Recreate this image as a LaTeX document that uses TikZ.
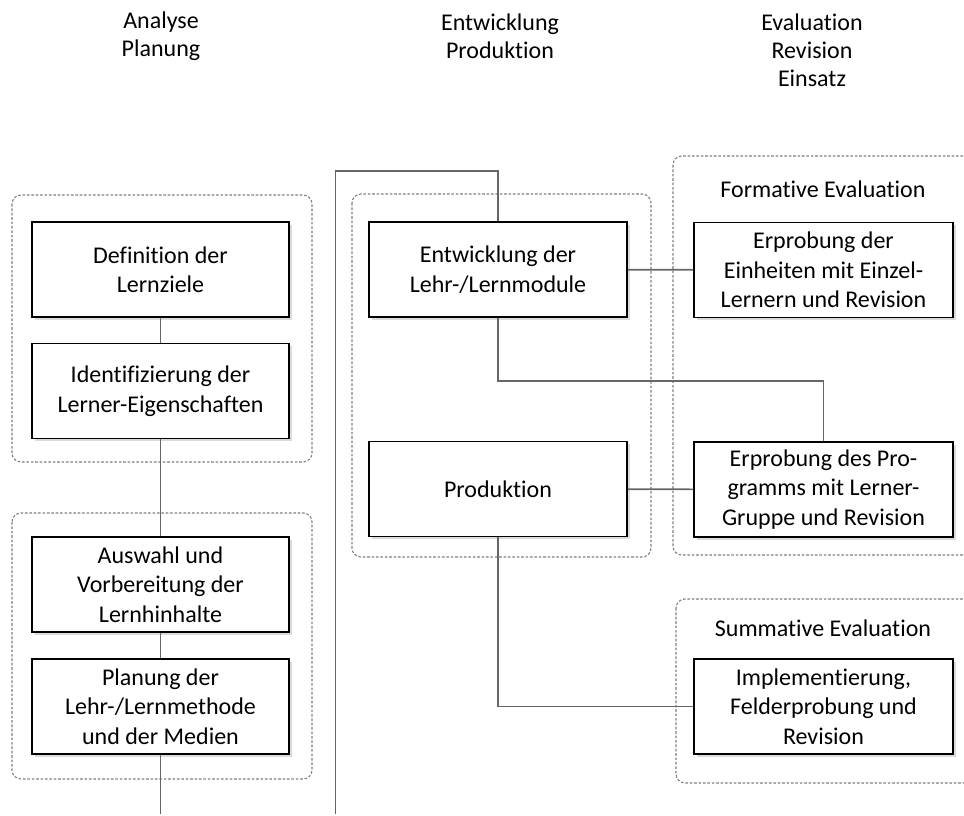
\documentclass[tikz,border=0pt]{standalone}
\usepackage{fontspec}
\setmainfont{Carlito}[Ligatures=NoCommon]
\usetikzlibrary{shadows}
\begin{document}
\begin{tikzpicture}[x=1pt,y=-1pt,
  font=\fontsize{24}{29.5}\selectfont,
  stepbox/.style={draw=black, line width=1.7pt, fill=white, align=center,
    minimum width=257pt, minimum height=95pt, inner sep=2pt,
    drop shadow={shadow xshift=2.5pt, shadow yshift=-2.5pt, fill=black!14, opacity=1}},
  groupbox/.style={draw=black!50, line width=1.1pt, dash pattern=on 2.6pt off 1.8pt, rounded corners=9pt},
  link/.style={draw=black!60, line width=1.6pt},
  heading/.style={align=center, font=\fontsize{24}{28}\selectfont}]
\useasboundingbox (0,0) rectangle (964,816);
\clip (0,0) rectangle (964,816);

% phase headings
\node[heading] (hA) at (161,36) {Analyse\\Planung};
\node[heading] (hE) at (500,36) {Entwicklung\\Produktion};
\node[heading] (hV) at (812,50) {Evaluation\\Revision\\Einsatz};

% dashed groups
\draw[groupbox] (12,195) rectangle (312,462);
\draw[groupbox] (12,513) rectangle (312,779);
\draw[groupbox] (352,194) rectangle (651,557);
\draw[groupbox] (673,156) rectangle (975,555);
\draw[groupbox] (676,599) rectangle (978,783);

\node (tF) at (823,189) {Formative Evaluation};
\node (tS) at (823,628) {Summative Evaluation};

% analysis and planning
\node[stepbox] (def)   at (160.5,269.5) {Definition der\\Lernziele};
\node[stepbox] (ident) at (160.5,391)   {Identifizierung der\\Lerner-Eigenschaften};
\node[stepbox] (ausw)  at (160.5,584.5) {Auswahl und\\Vorbereitung der\\Lernhinhalte};
\node[stepbox] (plan)  at (160.5,706.5) {Planung der\\Lehr-/Lernmethode\\und der Medien};

% development and production
\node[stepbox, minimum width=258pt] (entw) at (498,269.5) {Entwicklung der\\Lehr-/Lernmodule};
\node[stepbox, minimum width=258pt] (prod) at (498,489)   {Produktion};

% evaluation
\node[stepbox, minimum width=259pt] (erp1) at (823.5,270)   {Erprobung der\\Einheiten mit Einzel-\\Lernern und Revision};
\node[stepbox, minimum width=259pt] (erp2) at (823.5,489.5) {Erprobung des Pro-\\gramms mit Lerner-\\Gruppe und Revision};
\node[stepbox, minimum width=259pt] (impl) at (823.5,706.5) {Implementierung,\\Felderprobung und\\Revision};

% connectors
\coordinate (endA) at (160.5,814);
\coordinate (endB) at (335.5,814);
\coordinate (topB) at (335.5,171);
\coordinate (bend) at (823.5,381);

\draw[link] (def) -- (ident);
\draw[link] (ident) -- (ausw);
\draw[link] (ausw) -- (plan);
\draw[link] (plan) -- (endA);
\draw[link] (endB) -- (topB) -| (entw.north);
\draw[link] (entw) -- (erp1);
\draw[link] (entw.south) |- (bend) -- (erp2.north);
\draw[link] (prod) -- (erp2);
\draw[link] (prod.south) |- (impl.west);
\end{tikzpicture}
\end{document}
